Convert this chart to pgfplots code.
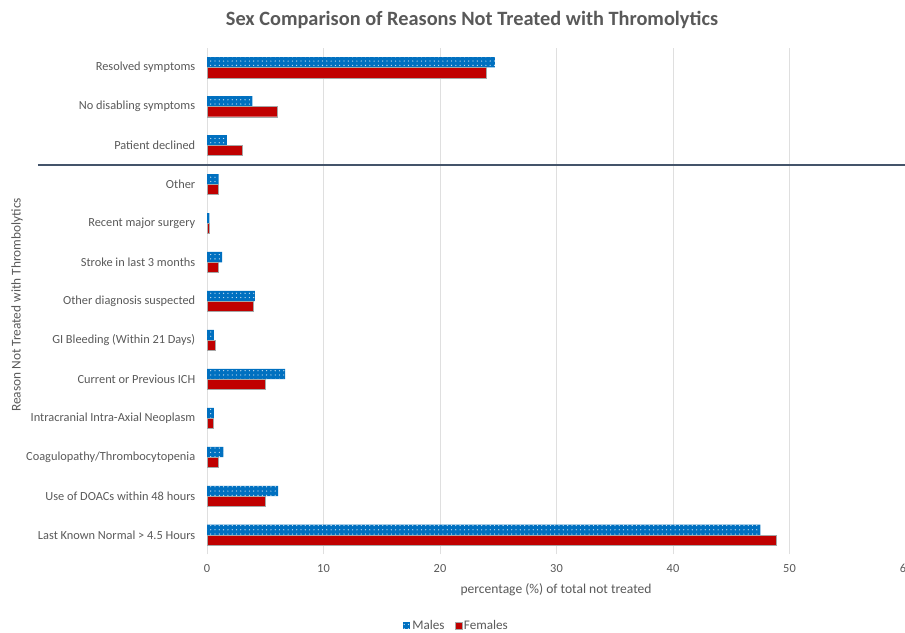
\documentclass[border=0pt]{standalone}
\usepackage{fontspec}
\setmainfont{Carlito}
\usepackage{pgfplots}
\pgfplotsset{compat=1.18}
\usetikzlibrary{patterns.meta}
\definecolor{txt}{HTML}{595959}
\definecolor{mblue}{HTML}{0070C0}
\definecolor{fred}{HTML}{C00000}
\definecolor{sepc}{HTML}{44546A}
\begin{document}
\begin{tikzpicture}[x=1bp,y=1bp]
\useasboundingbox (0,0) rectangle (905,633);
\begin{axis}[
  at={(207bp,78.5bp)}, anchor=south west,
  scale only axis, width=699bp, height=506.5bp,
  xbar, bar width=10.3bp,
  xmin=0, xmax=60, ymin=-0.5, ymax=12.5,
  xtick={0,10,...,60},
  ytick={0,...,12},
  yticklabels={Last Known Normal > 4.5 Hours, Use of DOACs within 48 hours, Coagulopathy/Thrombocytopenia, Intracranial Intra-Axial Neoplasm, Current or Previous ICH, GI Bleeding (Within 21 Days), Other diagnosis suspected, Stroke in last 3 months, Recent major surgery, Other, Patient declined, No disabling symptoms, Resolved symptoms},
  xmajorgrids, major grid style={draw=gray!25, line width=0.8bp},
  axis line style={draw=none},
  tick style={draw=none},
  ticklabel style={font=\fontsize{12.4}{14}\selectfont, text=txt},
  xticklabel style={yshift=-6bp},
  yticklabel style={xshift=-4bp},
  /pgf/number format/assume math mode=true,
  clip=false,
  legend columns=2,
  legend style={draw=none, at={(0.357,-0.14)}, anchor=center, font=\fontsize{13.2}{15}\selectfont, text=txt, /tikz/every even column/.append style={column sep=8bp}},
  legend image code/.code={\fill[#1] (0bp,-3.5bp) rectangle (7bp,3.5bp);},
]
\addplot+[bar shift=5.15bp, fill=mblue, draw=none, postaction={pattern={Dots[distance=4.3bp, radius=0.65bp]}, pattern color=white!80!mblue}] coordinates {
(47.5,0) (6.1,1) (1.4,2) (0.6,3) (6.7,4) (0.6,5) (4.1,6) (1.3,7) (0.2,8) (1.0,9) (1.7,10) (3.9,11) (24.7,12)};
\addlegendentry{Males}
\addplot+[bar shift=-5.15bp, fill=fred, draw=gray!70, line width=0.4bp] coordinates {
(48.9,0) (5.0,1) (1.0,2) (0.5,3) (5.0,4) (0.7,5) (4.0,6) (1.0,7) (0.2,8) (1.0,9) (3.0,10) (6.0,11) (24.0,12)};
\addlegendentry{Females}
\draw[sepc, line width=1.3bp] ([xshift=-169bp]axis cs:0,9.5) -- ([xshift=5bp]axis cs:60,9.5);
\end{axis}
\node[font=\bfseries\fontsize{20.4}{24}\selectfont, text=txt] at (472bp,613bp) {Sex Comparison of Reasons Not Treated with Thromolytics};
\node[font=\fontsize{13.4}{15}\selectfont, text=txt, rotate=90] at (17bp,328bp) {Reason Not Treated with Thrombolytics};
\node[font=\fontsize{13.6}{15}\selectfont, text=txt] at (556bp,43bp) {percentage (\%) of total not treated};
\end{tikzpicture}
\end{document}
